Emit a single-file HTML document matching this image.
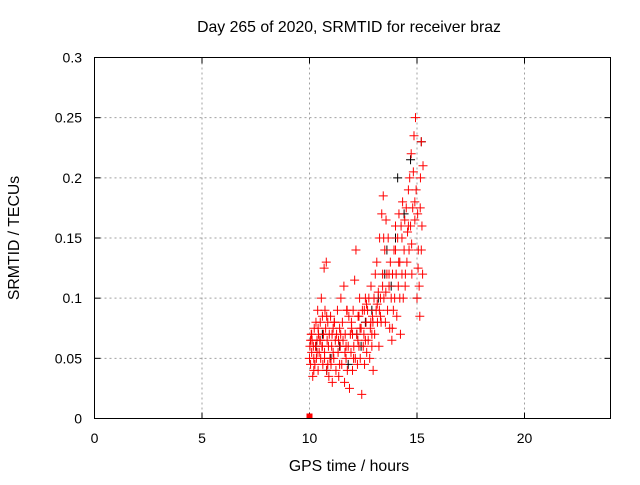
<!DOCTYPE html>
<html><head><meta charset="utf-8"><style>
body{margin:0;background:#fff;width:640px;height:480px;overflow:hidden}
svg text{font-family:"Liberation Sans",sans-serif;font-size:14px;fill:#000}
svg text.big{font-size:15.8px}
</style></head><body>
<svg id="chart" width="640" height="480" xmlns="http://www.w3.org/2000/svg">
<text class="big" x="349" y="32" text-anchor="middle">Day 265 of 2020, SRMTID for receiver braz</text>
<text class="big" x="349" y="471" text-anchor="middle">GPS time / hours</text>
<text class="big" transform="translate(19,238) rotate(-90)" text-anchor="middle">SRMTID / TECUs</text>
<g id="grid"></g>
<g id="ticks"></g>
<g id="blk"></g>
<g id="red"></g>
<rect x="94.5" y="57.5" width="516" height="361" fill="none" stroke="#000" stroke-width="1"/>
</svg>
<script>
const xTicks=[0,5,10,15,20];
const yTicks=[0,0.05,0.1,0.15,0.2,0.25,0.3];
const yTickLabels=["0","0.05","0.1","0.15","0.2","0.25","0.3"];
const redT=[
10.0,10.02,10.05,10.08,10.1,10.12,10.15,10.18,10.2,10.22,
10.25,10.28,10.3,10.32,10.35,10.38,10.4,10.42,10.45,10.48,
10.5,10.52,10.55,10.58,10.6,10.62,10.65,10.68,10.7,10.72,
10.75,10.78,10.8,10.82,10.85,10.88,10.9,10.92,10.95,10.98,
11.0,11.03,11.06,11.1,11.13,11.16,11.2,11.23,11.26,11.3,
11.33,11.36,11.4,11.43,11.46,11.5,11.53,11.56,11.6,11.63,
11.66,11.7,11.73,11.76,11.8,11.83,11.86,11.9,11.93,11.96,
12.0,12.03,12.06,12.1,12.13,12.16,12.2,12.23,12.26,12.3,
12.33,12.36,12.4,12.43,12.46,12.5,12.53,12.56,12.6,12.63,
12.66,12.7,12.73,12.76,12.8,12.83,12.86,12.9,12.93,12.96,
13.0,13.03,13.06,13.1,13.13,13.16,13.2,13.23,13.26,13.3,
13.33,13.36,13.4,13.43,13.46,13.5,13.53,13.56,13.6,13.63,
13.66,13.7,13.73,13.76,13.8,13.83,13.86,13.9,13.93,13.96,
14.0,14.03,14.06,14.1,14.13,14.16,14.2,14.23,14.26,14.3,
14.33,14.36,14.4,14.43,14.46,14.5,14.53,14.56,14.6,14.63,
14.66,14.7,14.73,14.76,14.8,14.83,14.86,14.9,14.93,14.96,
15.0,15.03,15.06,15.1,15.13,15.16,15.2,15.23,15.26,15.28,
10.1,10.35,10.6,10.85,11.15,11.45,11.75,12.05,12.35,12.65,
12.95,13.25,13.55,13.85,14.15,14.45,14.75,15.05,15.15,13.45,
10.2,10.5,10.8,11.1,11.4,11.7,12.0,12.3,12.6,12.9,
10.05,10.4,10.7,11.05,11.35,11.65,11.95,12.25,12.55,12.85,
13.15,13.4,13.7,14.0,14.3,14.6,14.9,15.2,13.3,14.2];
const redV=[
0.05,0.06,0.045,0.07,0.055,0.065,0.035,0.06,0.05,0.075,
0.045,0.06,0.08,0.05,0.065,0.09,0.04,0.07,0.055,0.065,
0.08,0.05,0.1,0.06,0.085,0.045,0.07,0.125,0.055,0.09,
0.075,0.13,0.04,0.065,0.08,0.06,0.035,0.07,0.05,0.085,
0.045,0.06,0.03,0.075,0.05,0.08,0.065,0.04,0.07,0.09,
0.055,0.035,0.075,0.06,0.1,0.045,0.08,0.065,0.11,0.03,
0.07,0.05,0.09,0.04,0.06,0.085,0.025,0.07,0.055,0.075,
0.04,0.09,0.06,0.115,0.05,0.14,0.07,0.045,0.085,0.06,
0.1,0.05,0.075,0.02,0.09,0.06,0.07,0.045,0.1,0.08,
0.055,0.09,0.065,0.1,0.05,0.075,0.11,0.06,0.085,0.04,
0.1,0.07,0.12,0.09,0.13,0.08,0.105,0.06,0.15,0.1,
0.08,0.17,0.12,0.185,0.1,0.14,0.08,0.165,0.12,0.09,
0.15,0.11,0.075,0.13,0.1,0.065,0.12,0.09,0.14,0.1,
0.16,0.12,0.085,0.15,0.11,0.17,0.13,0.07,0.16,0.12,
0.18,0.1,0.14,0.165,0.12,0.175,0.13,0.155,0.19,0.14,
0.2,0.16,0.22,0.12,0.175,0.205,0.235,0.165,0.25,0.19,
0.1,0.17,0.14,0.11,0.085,0.2,0.23,0.16,0.12,0.21,
0.07,0.055,0.06,0.045,0.08,0.07,0.09,0.05,0.075,0.095,
0.08,0.09,0.105,0.075,0.13,0.11,0.145,0.125,0.175,0.15,
0.04,0.065,0.085,0.055,0.045,0.06,0.07,0.085,0.065,0.07,
0.065,0.075,0.05,0.07,0.065,0.055,0.08,0.065,0.09,0.08,
0.095,0.11,0.12,0.14,0.15,0.16,0.18,0.14,0.085,0.1];
const blkT=[10.3,10.6,11.0,11.4,11.8,12.2,12.6,12.9,13.2,13.5,13.8,14.1,14.4,14.7,15.0,15.2,12.4,13.6,14.0,10.8];
const blkV=[0.06,0.07,0.05,0.06,0.045,0.07,0.08,0.09,0.1,0.12,0.11,0.2,0.17,0.215,0.1,0.23,0.06,0.14,0.15,0.04];
const X0=94.5,X1=610.5,Y0=418.5,Y1=57.5;
const xs=t=>X0+t/24*(X1-X0), ys=v=>Y0-v/0.3*(Y0-Y1);
const NS="http://www.w3.org/2000/svg";
function mk(p,tag,a){const e=document.createElementNS(NS,tag);for(const k in a)e.setAttribute(k,a[k]);p.appendChild(e);return e;}
const g=document.getElementById('grid'),tk=document.getElementById('ticks');
xTicks.forEach(t=>{const x=xs(t);
 if(t>0){const l=mk(g,'line',{x1:x,x2:x,y1:Y1,y2:Y0,stroke:'#a0a0a0','stroke-dasharray':'2,3'});
 
 }
 mk(tk,'line',{x1:x,x2:x,y1:Y0,y2:Y0-6,stroke:'#000'});
 mk(tk,'line',{x1:x,x2:x,y1:Y1,y2:Y1+6,stroke:'#000'});
 const tx=mk(tk,'text',{x:x,y:443,'text-anchor':'middle'});tx.textContent=t;
 
 });
yTicks.forEach((v,i)=>{const y=ys(v);
 if(v>0&&v<0.3){const l=mk(g,'line',{x1:X0,x2:X1,y1:y,y2:y,stroke:'#a0a0a0','stroke-dasharray':'2,3'});
 
 }
 mk(tk,'line',{x1:X0,x2:X0+6,y1:y,y2:y,stroke:'#000'});
 mk(tk,'line',{x1:X1,x2:X1-6,y1:y,y2:y,stroke:'#000'});
 const tx=mk(tk,'text',{x:82,y:y+5,'text-anchor':'end'});tx.textContent=yTickLabels[i];
 
 });
function plus(p,t,v,c,n){const x=xs(t),y=ys(v);
 const e=mk(p,'path',{d:`M${x-4.5},${y}h9M${x},${y-4.5}v9`,stroke:c,'stroke-width':1,fill:'none'});
 
 }
const b=document.getElementById('blk'),r=document.getElementById('red');
blkT.forEach((t,i)=>plus(b,t,blkV[i],'#000','black-point'));
redT.forEach((t,i)=>plus(r,t,redV[i],'#f00','red-point'));
const sq=mk(r,'rect',{x:xs(10)-3,y:Y0-5,width:6,height:5,fill:'#f00'});


</script>
</body></html>
